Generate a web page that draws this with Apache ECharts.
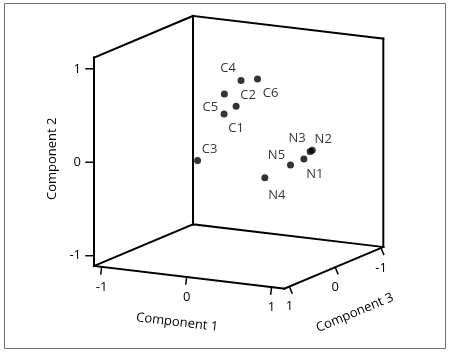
<!DOCTYPE html>
<html>
<head>
<meta charset="utf-8">
<script src="https://cdn.jsdelivr.net/npm/echarts@6/dist/echarts.min.js"></script>
<style>
html, body { margin: 0; padding: 0; background: #fff; }
#main { width: 450px; height: 352px; }
</style>
</head>
<body>
<div id="main"></div>
<script>
// axis ranges of the three components
var comp1Range = [-1.09, 1.15];
var comp2Range = [-1.11, 1.12];
var comp3Range = [-1.05, 1.11];
var tickValues = [-1, 0, 1];
var axisNames = ['Component 1', 'Component 2', 'Component 3'];

// cases (depth on component 3 estimated)
var pointNames = ['C1', 'C2', 'C3', 'C4', 'C5', 'C6', 'N1', 'N2', 'N3', 'N4', 'N5'];
var comp1 = [-0.05, -0.07, -0.20, -0.12, -0.10, 0.02, 0.62, 0.61, 0.64, 0.43, 0.57];
var comp2 = [0.44, 0.46, -0.01, 0.69, 0.63, 0.70, -0.07, -0.02, -0.01, -0.19, -0.10];
var comp3 = [0.2, -0.1, 0.5, -0.3, 0.1, -0.4, -0.3, -0.5, -0.4, 0.2, -0.1];

(function() {
	var FONT = '"Open Sans", "Noto Sans", sans-serif';
	var INK = '#000';

	// oblique projection of the box onto the page
	var origin = [94, 266];      // comp1 min, comp2 min, comp3 max
	var edge1 = [190.3, 22.7];   // comp1 min -> max
	var edge2 = [0, -208.4];     // comp2 min -> max
	var edge3 = [99, -41.7];     // comp3 max -> min

	function frac(v, r) {
		return (v - r[0]) / (r[1] - r[0]);
	}
	function project(c1, c2, c3) {
		var t1 = frac(c1, comp1Range);
		var t2 = frac(c2, comp2Range);
		var t3 = 1 - frac(c3, comp3Range);
		return [
			origin[0] + t1 * edge1[0] + t2 * edge2[0] + t3 * edge3[0],
			origin[1] + t1 * edge1[1] + t2 * edge2[1] + t3 * edge3[1]
		];
	}
	function unit(v) {
		var l = Math.sqrt(v[0] * v[0] + v[1] * v[1]);
		return [v[0] / l, v[1] / l];
	}

	var r1 = comp1Range, r2 = comp2Range, r3 = comp3Range;
	var F = project(r1[0], r2[0], r3[1]);
	var G = project(r1[1], r2[0], r3[1]);
	var D = project(r1[1], r2[0], r3[0]);
	var E = project(r1[0], r2[0], r3[0]);
	var A = project(r1[0], r2[1], r3[1]);
	var B = project(r1[0], r2[1], r3[0]);
	var C = project(r1[1], r2[1], r3[0]);

	var segs = [];
	[[A, F], [A, B], [B, C], [C, D], [B, E], [E, F], [E, D], [F, G], [G, D]].forEach(function(e) {
		segs.push([e[0][0], e[0][1], e[1][0], e[1][1], 2]);
	});

	var texts = [];   // [x, y, text, align, rotation]
	var n1 = unit([-edge1[1], edge1[0]]);
	var n3 = unit([-edge3[1], edge3[0]]);
	tickValues.forEach(function(v) {
		// component 1
		var b = project(v, r2[0], r3[1]);
		segs.push([b[0], b[1], b[0] + n1[0] * 7, b[1] + n1[1] * 7, 1.5]);
		texts.push([b[0], b[1] + 20, String(v), 'center', 0]);
		// component 3
		b = project(r1[1], r2[0], v);
		segs.push([b[0], b[1], b[0] + n3[0] * 7, b[1] + n3[1] * 7, 1.5]);
		texts.push([b[0], b[1] + 20, String(v), 'center', 0]);
		// component 2
		b = project(r1[0], v, r3[1]);
		segs.push([b[0], b[1], b[0] - 8, b[1], 1.5]);
		texts.push([b[0] - 13, b[1], String(v), 'right', 0]);
	});

	var m1 = [(F[0] + G[0]) / 2, (F[1] + G[1]) / 2];
	var m2 = [(F[0] + A[0]) / 2, (F[1] + A[1]) / 2];
	var m3 = [(G[0] + D[0]) / 2, (G[1] + D[1]) / 2];
	texts.push([m1[0] - 12, m1[1] + 45, axisNames[0], 'center', -Math.atan2(edge1[1], edge1[0])]);
	texts.push([m2[0] - 42, m2[1] - 3, axisNames[1], 'center', Math.PI / 2]);
	texts.push([m3[0] + 21, m3[1] + 45, axisNames[2], 'center', -Math.atan2(edge3[1], edge3[0])]);

	var labelOffsets = [[12, 14], [12, -11], [12, -11], [-13, -12], [-14, 13], [13, 14],
		[11, 15], [11, -11], [-13, -13], [12, 17], [-14, -10]];

	var points = pointNames.map(function(name, i) {
		return {
			name: name,
			value: project(comp1[i], comp2[i], comp3[i]),
			label: { offset: labelOffsets[i] }
		};
	});

	var chart = echarts.init(document.getElementById('main'), null, { renderer: 'canvas' });
	chart.setOption({
		animation: false,
		backgroundColor: '#fff',
		grid: { left: 0, right: 0, top: 0, bottom: 0 },
		xAxis: { type: 'value', min: 0, max: 450, show: false },
		yAxis: { type: 'value', min: 0, max: 352, inverse: true, show: false },
		graphic: [{
			type: 'rect',
			shape: { x: 4.5, y: 3.5, width: 441, height: 345 },
			style: { fill: 'none', stroke: '#6e6e6e', lineWidth: 1 },
			silent: true
		}],
		series: [{
			type: 'custom',
			silent: true,
			clip: false,
			data: segs,
			renderItem: function(params, api) {
				var p1 = api.coord([api.value(0), api.value(1)]);
				var p2 = api.coord([api.value(2), api.value(3)]);
				return {
					type: 'line',
					shape: { x1: p1[0], y1: p1[1], x2: p2[0], y2: p2[1] },
					style: { stroke: INK, lineWidth: api.value(4), lineCap: 'square' }
				};
			}
		}, {
			type: 'custom',
			silent: true,
			clip: false,
			data: texts.map(function(t) { return [t[0], t[1]]; }),
			renderItem: function(params, api) {
				var t = texts[params.dataIndex];
				var p = api.coord([api.value(0), api.value(1)]);
				return {
					type: 'text',
					x: p[0],
					y: p[1],
					rotation: t[4],
					style: {
						text: t[2],
						fill: INK,
						font: '13px ' + FONT,
						align: t[3],
						verticalAlign: 'middle'
					}
				};
			}
		}, {
			type: 'scatter',
			silent: true,
			symbol: 'circle',
			symbolSize: 7,
			itemStyle: { color: '#000' },
			label: {
				show: true,
				position: 'inside',
				formatter: '{b}',
				color: INK,
				fontSize: 13,
				fontFamily: FONT
			},
			data: points
		}]
	});
})();
</script>
</body>
</html>
